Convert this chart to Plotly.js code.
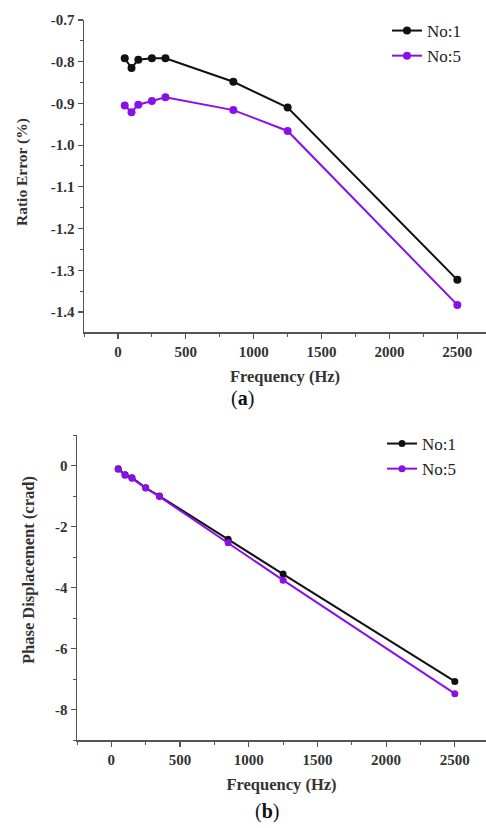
<!DOCTYPE html>
<html><head><meta charset="utf-8">
<script src="https://cdn.plot.ly/plotly-3.0.1.min.js"></script>
<style>html,body{margin:0;padding:0;background:#fff}#plot{width:486px;height:828px}</style>
</head><body><div id="plot"></div>
<script>
const freq = [50, 100, 150, 250, 350, 850, 1250, 2500];
const ratioNo1 = [-0.792, -0.815, -0.795, -0.792, -0.792, -0.848, -0.910, -1.323];
const ratioNo5 = [-0.905, -0.921, -0.903, -0.894, -0.885, -0.916, -0.966, -1.383];
const phaseNo1 = [-0.11, -0.30, -0.40, -0.73, -1.00, -2.42, -3.56, -7.08];
const phaseNo5 = [-0.12, -0.32, -0.42, -0.74, -1.02, -2.53, -3.76, -7.48];
const seriesNames = ["No:1", "No:5"];
const xTicks = [0, 500, 1000, 1500, 2000, 2500];
const xTickText = ["0", "500", "1000", "1500", "2000", "2500"];
const ratioTicks = [-0.7, -0.8, -0.9, -1.0, -1.1, -1.2, -1.3, -1.4];
const ratioTickText = ["-0.7", "-0.8", "-0.9", "-1.0", "-1.1", "-1.2", "-1.3", "-1.4"];
const phaseTicks = [0, -2, -4, -6, -8];
const phaseTickText = ["0", "-2", "-4", "-6", "-8"];

const black = "#111111", purple = "#8a10e8";
const serifF = "Liberation Serif";
const axisColor = "#555555";
const bold = arr => arr.map(s => "<b>" + s + "</b>");

const traces = [
  {x: freq, y: ratioNo1, name: seriesNames[0], xaxis: "x", yaxis: "y", legend: "legend",
   mode: "lines+markers", line: {color: black, width: 2}, marker: {color: black, size: 8}},
  {x: freq, y: ratioNo5, name: seriesNames[1], xaxis: "x", yaxis: "y", legend: "legend",
   mode: "lines+markers", line: {color: purple, width: 2}, marker: {color: purple, size: 8}},
  {x: freq, y: phaseNo1, name: seriesNames[0], xaxis: "x2", yaxis: "y2", legend: "legend2",
   mode: "lines+markers", line: {color: black, width: 2}, marker: {color: black, size: 7}},
  {x: freq, y: phaseNo5, name: seriesNames[1], xaxis: "x2", yaxis: "y2", legend: "legend2",
   mode: "lines+markers", line: {color: purple, width: 2}, marker: {color: purple, size: 7}}
];

const tickFont = {family: serifF, size: 15, color: "#333"};
const titleFontX = {family: serifF, size: 16.5, color: "#333"};
function axisBase() {
  return {
    showline: true, linecolor: axisColor, linewidth: 1.5, mirror: false,
    showgrid: false, zeroline: false, tickmode: "array",
    ticks: "outside", ticklen: 5, tickwidth: 1.2, tickcolor: axisColor,
    tickfont: tickFont
  };
}
const minorX = {ticks: "outside", ticklen: 3, tickwidth: 1, tickcolor: axisColor, dtick: 250, tick0: 0};

const layout = {
  width: 486, height: 828,
  margin: {l: 0, r: 0, t: 0, b: 0},
  paper_bgcolor: "#fff", plot_bgcolor: "#fff",
  font: {family: serifF},
  showlegend: true,
  xaxis: Object.assign(axisBase(), {
    domain: [84/486, 1], range: [-250, 2711], anchor: "y",
    tickvals: xTicks, ticktext: bold(xTickText), minor: minorX,
    title: {text: "<b>Frequency (Hz)</b>", font: titleFontX, standoff: 12}
  }),
  yaxis: Object.assign(axisBase(), {
    domain: [1 - 332/828, 1 - 20/828], range: [-1.448, -0.7], anchor: "x",
    tickvals: ratioTicks, ticktext: bold(ratioTickText),
    minor: {ticks: "outside", ticklen: 3, tickwidth: 1, tickcolor: axisColor, dtick: 0.05, tick0: -0.7}
  }),
  xaxis2: Object.assign(axisBase(), {
    domain: [77/486, 1], range: [-250, 2727], anchor: "y2",
    tickvals: xTicks, ticktext: bold(xTickText), minor: minorX,
    title: {text: "<b>Frequency (Hz)</b>", font: titleFontX, standoff: 12}
  }),
  yaxis2: Object.assign(axisBase(), {
    domain: [1 - 740/828, 1 - 435/828], range: [-9, 1], anchor: "x2",
    tickvals: phaseTicks, ticktext: bold(phaseTickText),
    minor: {ticks: "outside", ticklen: 3, tickwidth: 1, tickcolor: axisColor, dtick: 1, tick0: 0}
  }),
  legend: {x: 387/486, y: 1 - 13/828, xanchor: "left", yanchor: "top", bgcolor: "rgba(0,0,0,0)",
    font: {family: serifF, size: 17, color: "#222"}, itemwidth: 30, tracegroupgap: 0},
  legend2: {x: 382/486, y: 1 - 426/828, xanchor: "left", yanchor: "top", bgcolor: "rgba(0,0,0,0)",
    font: {family: serifF, size: 17, color: "#222"}, itemwidth: 30, tracegroupgap: 0},
  annotations: [
    {text: "<b>Ratio Error (%)</b>", textangle: -90, xref: "paper", yref: "paper", x: 22/486, y: 1 - 172/828,
     xanchor: "center", yanchor: "middle", showarrow: false, font: {family: serifF, size: 15.5, color: "#333"}},
    {text: "<b>Phase Displacement (crad)</b>", textangle: -90, xref: "paper", yref: "paper", x: 28/486, y: 1 - 570/828,
     xanchor: "center", yanchor: "middle", showarrow: false, font: {family: serifF, size: 16.5, color: "#333"}},
    {text: "(<b>a</b>)", xref: "paper", yref: "paper", x: 242/486, y: 1 - 399/828,
     xanchor: "center", yanchor: "middle", showarrow: false, font: {family: serifF, size: 20, color: "#111"}},
    {text: "(<b>b</b>)", xref: "paper", yref: "paper", x: 267/486, y: 1 - 811/828,
     xanchor: "center", yanchor: "middle", showarrow: false, font: {family: serifF, size: 20, color: "#111"}}
  ]
};

Plotly.newPlot("plot", traces, layout, {displayModeBar: false, staticPlot: true});
</script></body></html>
